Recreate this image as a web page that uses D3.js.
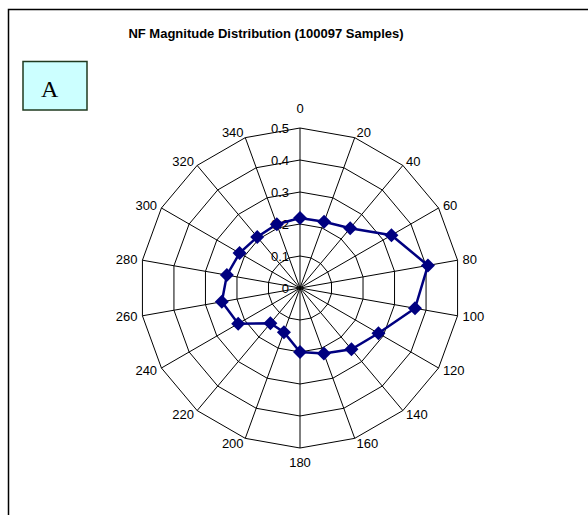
<!DOCTYPE html>
<html>
<head>
<meta charset="utf-8">
<script src="https://cdn.jsdelivr.net/npm/d3@7"></script>
<style>
  body { margin: 0; background: #fff; }
  svg { display: block; font-family: Arial, "Liberation Sans", sans-serif; }
</style>
</head>
<body>
<svg id="chart" width="588" height="515"></svg>
<script>
// Direction bins (degrees) and normalised magnitude per bin
const categories = [0, 20, 40, 60, 80, 100, 120, 140, 160, 180, 200, 220, 240, 260, 280, 300, 320, 340];
const values = [0.219, 0.22, 0.244, 0.33, 0.406, 0.365, 0.283, 0.25, 0.218, 0.20, 0.147, 0.144, 0.223, 0.248, 0.232, 0.218, 0.208, 0.212];
const radialTicks = [0, 0.1, 0.2, 0.3, 0.4, 0.5];
const titleText = "NF Magnitude Distribution (100097 Samples)";

const svg = d3.select("#chart");

// outer chart frame (runs off the right and bottom edge)
svg.append("rect")
    .attr("x", 8.5).attr("y", 9.5)
    .attr("width", 700).attr("height", 600)
    .attr("fill", "#fff")
    .attr("stroke", "#000")
    .attr("stroke-width", 1.5);

svg.append("text")
    .attr("x", 266).attr("y", 38)
    .attr("text-anchor", "middle")
    .attr("font-size", 13)
    .attr("font-weight", "bold")
    .text(titleText);

// "A" panel tag
svg.append("rect")
    .attr("x", 23).attr("y", 61.5)
    .attr("width", 64).attr("height", 48.5)
    .attr("fill", "#ccffff")
    .attr("stroke", "#1f3a1f")
    .attr("stroke-width", 1.5);

svg.append("text")
    .attr("x", 41).attr("y", 97)
    .attr("font-family", "'Liberation Serif', 'Times New Roman', serif")
    .attr("font-size", 24)
    .text("A");

const cx = 300, cy = 288, R = 160;

const g = svg.append("g").attr("transform", `translate(${cx},${cy})`);

const r = d3.scaleLinear().domain([0, 0.5]).range([0, R]);
const angle = d3.scalePoint().domain(categories).range([0, 2 * Math.PI * (1 - 1 / categories.length)]);

const pt = (cat, v) => {
    const a = angle(cat);
    return [r(v) * Math.sin(a), -r(v) * Math.cos(a)];
};

// polygonal rings
const ringLine = d3.line();
g.selectAll(".ring")
    .data(radialTicks.filter(t => t > 0))
    .enter()
    .append("path")
    .attr("class", "ring")
    .attr("d", t => ringLine(categories.map(c => pt(c, t))) + "Z")
    .attr("fill", "none")
    .attr("stroke", "#000")
    .attr("stroke-width", 1);

// spokes
g.selectAll(".spoke")
    .data(categories)
    .enter()
    .append("line")
    .attr("class", "spoke")
    .attr("x1", 0).attr("y1", 0)
    .attr("x2", c => pt(c, 0.5)[0])
    .attr("y2", c => pt(c, 0.5)[1])
    .attr("stroke", "#000")
    .attr("stroke-width", 1);

// category labels
g.selectAll(".cat-label")
    .data(categories)
    .enter()
    .append("text")
    .attr("class", "cat-label")
    .attr("font-size", 13)
    .attr("dominant-baseline", "central")
    .each(function(c) {
        const a = angle(c);
        const s = Math.sin(a), co = Math.cos(a);
        const [vx, vy] = pt(c, 0.5);
        let x, y, anchor;
        if (Math.abs(s) < 0.1) {
            anchor = "middle";
            x = vx;
            y = vy + (co > 0 ? -20 : 14);
        } else {
            anchor = s > 0 ? "start" : "end";
            x = vx + 5 * s;
            y = vy - 5 * co;
        }
        d3.select(this)
            .attr("x", x).attr("y", y)
            .attr("text-anchor", anchor)
            .text(c);
    });

// radial value labels along the 0 spoke
g.selectAll(".tick-label")
    .data(radialTicks)
    .enter()
    .append("text")
    .attr("class", "tick-label")
    .attr("x", -11)
    .attr("y", t => -r(t))
    .attr("dominant-baseline", "central")
    .attr("text-anchor", "end")
    .attr("font-size", 13)
    .text(t => t === 0 ? "0" : d3.format(".1f")(t));

// data series
const series = categories.map((c, i) => pt(c, values[i]));

g.append("path")
    .attr("d", d3.line()(series) + "Z")
    .attr("fill", "none")
    .attr("stroke", "#000080")
    .attr("stroke-width", 2.5);

g.selectAll(".marker")
    .data(series)
    .enter()
    .append("path")
    .attr("class", "marker")
    .attr("transform", d => `translate(${d[0]},${d[1]})`)
    .attr("d", d3.symbol().type(d3.symbolDiamond2).size(125))
    .attr("fill", "#000080");
</script>
</body>
</html>
